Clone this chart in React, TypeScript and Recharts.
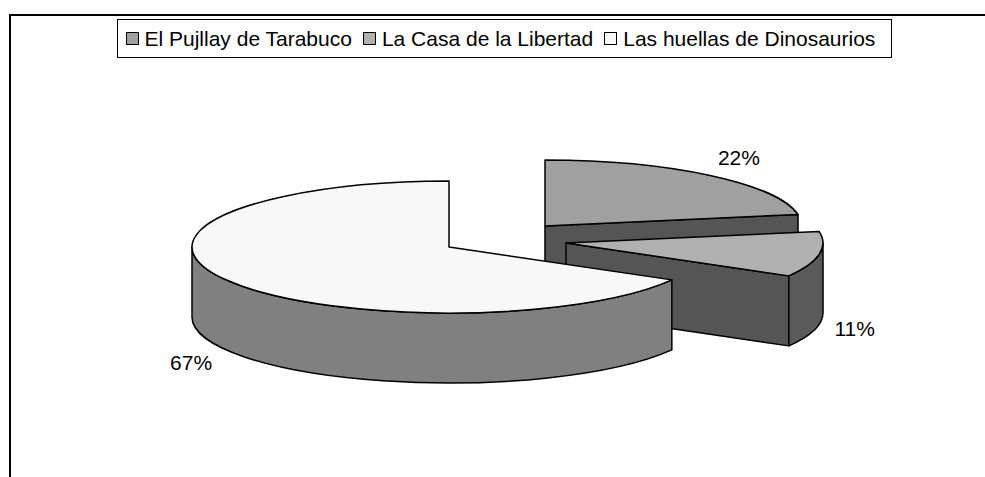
import React from "react";
import { PieChart, Pie, Legend } from "recharts";

const categories = ["El Pujllay de Tarabuco", "La Casa de la Libertad", "Las huellas de Dinosaurios"];
const shares = [22.2, 11.1, 66.7];

const topColors = ["#a0a0a0", "#b0b0b0", "#f8f8f8"];
const arcWallColors = ["#5a5a5a", "#5a5a5a", "#808080"];
const radialWallColor = "#555555";
const explodeX = [96, 117, 0];
const explodeY = [-21, -4, 0];
const labelRadiusX = [302, 293, 298];

const SQUASH = 66 / 257;
const DEPTH = 70;
const LABEL_RY = 90;
const FONT = "'Liberation Sans', Arial, sans-serif";

const chartData = categories.map((name, i) => ({ name, value: shares[i], fill: topColors[i] }));

const RAD = Math.PI / 180;

function Slice3D(props: any) {
  const { cx, cy, outerRadius: R, startAngle, endAngle, index } = props;
  const ax = cx + explodeX[index];
  const ay = cy + explodeY[index];
  const ry = R * SQUASH;
  const pt = (a: number): [number, number] => [ax + R * Math.cos(a * RAD), ay - ry * Math.sin(a * RAD)];
  const [sx, sy] = pt(startAngle);
  const [ex, ey] = pt(endAngle);
  const large = Math.abs(startAngle - endAngle) > 180 ? 1 : 0;
  const top = `M${ax},${ay} L${sx},${sy} A${R},${ry} 0 ${large} 1 ${ex},${ey} Z`;

  // visible radial wall: the face whose outward normal looks towards the viewer
  const endFaces = Math.sin((endAngle - 90) * RAD) < -1e-6;
  const radial = endFaces
    ? `M${ax},${ay} L${ex},${ey} L${ex},${ey + DEPTH} L${ax},${ay + DEPTH} Z`
    : null;

  // visible part of the outer wall: lower half of the ellipse only
  const a0 = Math.min(startAngle, 0);
  const a1 = Math.max(endAngle, -180);
  let arc: string | null = null;
  if (a0 > a1) {
    const [p0x, p0y] = pt(a0);
    const [p1x, p1y] = pt(a1);
    arc = `M${p0x},${p0y} A${R},${ry} 0 0 1 ${p1x},${p1y} L${p1x},${p1y + DEPTH} A${R},${ry} 0 0 0 ${p0x},${p0y + DEPTH} Z`;
  }

  const line = { stroke: "#000", strokeWidth: 1.5, strokeLinejoin: "round" as const };
  return (
    <g>
      {radial && <path d={radial} fill={radialWallColor} {...line} />}
      {arc && <path d={arc} fill={arcWallColors[index]} {...line} />}
      <path d={top} fill={topColors[index]} {...line} />
    </g>
  );
}

function sliceLabel(props: any) {
  const { cx, cy, midAngle, percent, index } = props;
  const sin = Math.sin(midAngle * RAD);
  const x = cx + explodeX[index] + labelRadiusX[index] * Math.cos(midAngle * RAD);
  const y = cy + explodeY[index] - LABEL_RY * sin + (sin < 0 ? DEPTH : 0);
  return (
    <text x={x} y={y} textAnchor="middle" dominantBaseline="central" fontFamily={FONT} fontSize={21} fill="#000">
      {`${Math.round(percent * 100)}%`}
    </text>
  );
}

function LegendBox({ payload }: any) {
  return (
    <div
      style={{
        display: "flex",
        alignItems: "center",
        boxSizing: "border-box",
        width: 775,
        height: 39,
        paddingLeft: 7.5,
        border: "1.5px solid #000",
        background: "#fff",
        fontFamily: FONT,
        fontSize: 21,
        color: "#000",
        whiteSpace: "nowrap",
      }}
    >
      {(payload || []).map((item: any, i: number) => (
        <span key={i} style={{ display: "flex", alignItems: "center", marginRight: 11 }}>
          <span
            style={{
              display: "inline-block",
              boxSizing: "border-box",
              width: 13,
              height: 13,
              marginRight: 6,
              border: "1.5px solid #000",
              background: topColors[i],
            }}
          />
          {item.value}
        </span>
      ))}
    </div>
  );
}

export default function App() {
  return (
    <div style={{ position: "absolute", left: 0, top: 0, width: 985, height: 477, overflow: "hidden", background: "#fff" }}>
      <div style={{ position: "absolute", left: 9, top: 14, width: 976, height: 463, borderTop: "2px solid #000", borderLeft: "2px solid #000", boxSizing: "border-box" }} />
      <PieChart width={985} height={477} margin={{ top: 0, right: 0, bottom: 0, left: 0 }} style={{ position: "absolute", left: 0, top: 0 }}>
        <Legend
          content={<LegendBox />}
          layout="horizontal"
          verticalAlign="top"
          align="left"
          wrapperStyle={{ position: "absolute", left: 117, top: 19, width: 775 }}
        />
        <Pie
          data={chartData}
          dataKey="value"
          nameKey="name"
          cx={449}
          cy={208}
          outerRadius={257}
          startAngle={90}
          endAngle={-270}
          paddingAngle={0}
          isAnimationActive={false}
          shape={(p: any) => <Slice3D {...p} />}
          label={sliceLabel}
          labelLine={false}
        />
      </PieChart>
    </div>
  );
}
